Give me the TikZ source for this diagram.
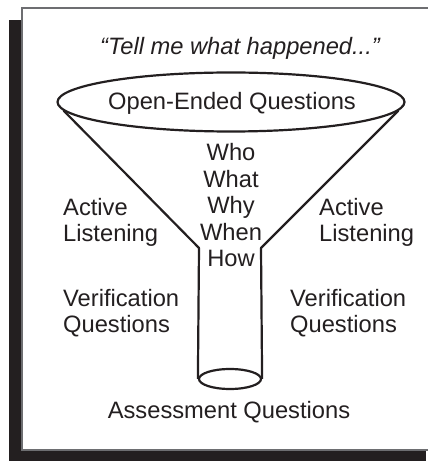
\documentclass[tikz,border=0pt]{standalone}
\usepackage{fontspec}
\setmainfont{Liberation Sans}
\usetikzlibrary{shapes.geometric,positioning}
\definecolor{funnelink}{HTML}{231F20}
\definecolor{framegray}{HTML}{6D6E71}
\def\bigtext{\fontsize{23.7}{26.5}\selectfont}

\begin{document}
\begin{tikzpicture}[x=1pt,y=1pt]
	\tikzstyle{funnelline} = [line width=2.2pt,draw=funnelink,line join=round]
	\tikzstyle{sidetext} = [inner sep=0pt,font=\bigtext,text=funnelink,align=left,anchor=base west]
	\tikzstyle{midtext} = [inner sep=0pt,font=\bigtext,text=funnelink,align=center,anchor=base]
	\useasboundingbox (0,0) rectangle (428,461);
	\clip (0,0) rectangle (428,461);
	% frame with its shadow
	\fill[funnelink] (9,0) rectangle (426,441);
	\draw[fill=white,draw=framegray,line width=1.3pt] (22,11) rectangle (440,453);
	% funnel
	\node[midtext] (tell) at (240,406) {\itshape “Tell me what happened...”};
	\node[funnelline,ellipse,minimum width=347,minimum height=59,inner sep=0pt] (top) at (231,359) {};
	\node[midtext] (open) at (232,351) {Open-Ended Questions};
	\node[funnelline,ellipse,minimum width=62,minimum height=20,inner sep=0pt] (bot) at (230,82) {};
	\coordinate (neckL) at (199,213);
	\coordinate (neckR) at (261,213);
	\draw[funnelline] (top.183)--(neckL)--(bot.west);
	\draw[funnelline] (top.-3)--(neckR)--(bot.east);
	% texts (base = last line)
	\node[midtext] (who) at (231,194) {Who\\What\\Why\\When\\How};
	\node[sidetext] (listenL) at (63,219) {Active\\Listening};
	\node[sidetext] (listenR) at (319,219) {Active\\Listening};
	\node[sidetext] (verifyL) at (63,128) {Verification\\Questions};
	\node[sidetext] (verifyR) at (290,128) {Verification\\Questions};
	\node[midtext] (assess) at (229,42) {Assessment Questions};
\end{tikzpicture}
\end{document}
